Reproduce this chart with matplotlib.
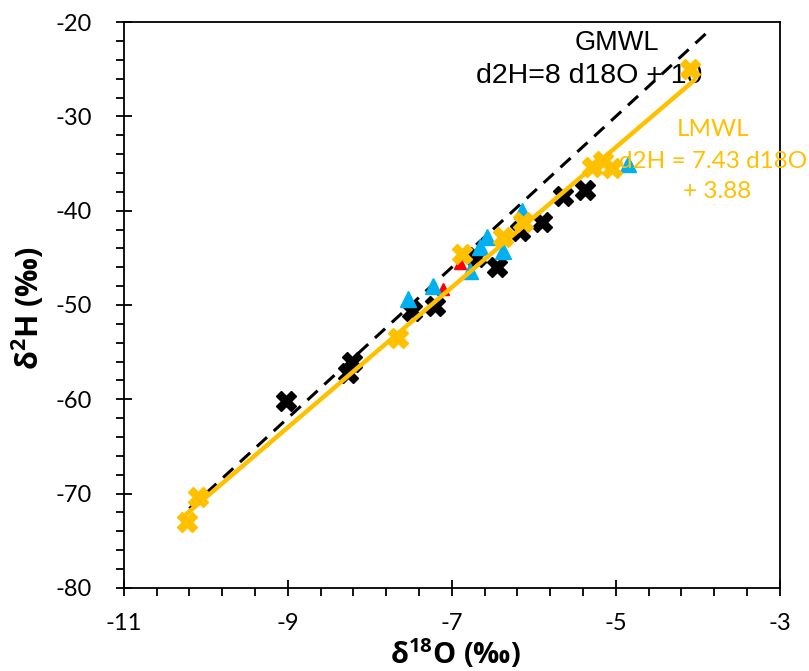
import matplotlib
matplotlib.use("Agg")
import matplotlib.pyplot as plt
import numpy as np

plt.rcParams['font.family'] = ['Lato', 'DejaVu Sans']
plt.rcParams['axes.unicode_minus'] = False
plt.rcParams['mathtext.fontset'] = 'custom'
plt.rcParams['mathtext.rm'] = 'Open Sans'
plt.rcParams['mathtext.bf'] = 'Open Sans:bold'

# Data
black_x = [-9.02, -8.22, -8.27, -7.49, -7.21, -6.70, -6.45, -6.17, -5.90, -5.65, -5.38]
black_y = [-60.2, -56.0, -57.2, -50.6, -50.1, -44.9, -46.0, -42.2, -41.2, -38.4, -37.8]

blue_x = [-7.54, -7.23, -6.78, -6.66, -6.57, -6.38, -6.15, -4.85]
blue_y = [-49.4, -48.0, -46.4, -43.8, -42.8, -44.3, -40.0, -35.0]

red_x = [-7.11, -6.90]
red_y = [-48.3, -45.6]

yel_x = [-10.23, -10.09, -7.66, -6.88, -6.38, -6.13, -5.29, -5.16, -5.05, -4.10]
yel_y = [-73.0, -70.4, -53.5, -44.6, -42.8, -41.2, -35.4, -34.7, -35.5, -25.0]

x_ticks = [-11, -9, -7, -5, -3]
y_ticks = [-80, -70, -60, -50, -40, -30, -20]

gmwl_slope, gmwl_int = 8.0, 10.0
gmwl_range = [-10.2, -3.85]
lmwl_slope, lmwl_int = 7.43, 3.88
lmwl_range = [-10.23, -4.05]

fig = plt.figure(figsize=(8.09, 6.71), dpi=100)
ax = fig.add_axes([0.153, 0.124, 0.811, 0.843])

gx = np.array(gmwl_range)
ax.plot(gx, gmwl_slope * gx + gmwl_int, color='black', lw=2.2, dashes=(4.5, 3), zorder=2)

ax.plot(black_x, black_y, ls='none', marker='X', ms=15, color='black', mec='black', zorder=3)
ax.plot(blue_x, blue_y, ls='none', marker='^', ms=12, color='#00B0F0', mec='#00B0F0', zorder=3)
ax.plot(red_x, red_y, ls='none', marker='^', ms=9, color='#FF0000', mec='#FF0000', zorder=2.5)
ax.plot(yel_x, yel_y, ls='none', marker='X', ms=14, color='#FFC000', mec='#FFC000', zorder=4)

lx = np.array(lmwl_range)
ax.plot(lx, lmwl_slope * lx + lmwl_int, color='#FFC000', lw=3.2, zorder=5)

ax.set_xlim(-11, -3)
ax.set_ylim(-80, -20)
ax.set_xticks(x_ticks)
ax.set_yticks(y_ticks)
ax.set_xticks(np.arange(-11, -2.99, 0.4), minor=True)
ax.set_yticks(np.arange(-80, -19.99, 2), minor=True)
ax.tick_params(which='major', direction='inout', length=12, width=1.3, labelsize=17)
ax.tick_params(which='minor', direction='out', length=5.5, width=1.3)
ax.tick_params(axis='x', which='major', pad=12)
ax.tick_params(axis='y', which='major', pad=17)
for s in ax.spines.values():
    s.set_linewidth(1.3)

ax.set_xlabel(r'$\mathbf{\delta^{18}O}$ $\mathbf{(‰)}$', fontsize=21)
ax.set_ylabel(r'$\mathbf{\delta^{2}H}$ $\mathbf{(‰)}$', fontsize=22)
ax.xaxis.label.set_va('center')
ax.yaxis.label.set_va('center')
ax.xaxis.set_label_coords(0.505, -0.115)
ax.yaxis.set_label_coords(-0.146, 0.495)

ax.text(-4.99, -22.2, 'GMWL', fontsize=19.5, ha='center', va='center',
        family=['Liberation Sans', 'DejaVu Sans'])
ax.text(-5.32, -25.7, 'd2H=8 d18O + 10', fontsize=20.5, ha='center', va='center',
        family=['Liberation Sans', 'DejaVu Sans'])
ax.text(-3.82, -31.4, 'LMWL', fontsize=17.5, ha='center', va='center', color='#FFC000')
ax.text(-3.81, -34.8, 'd2H = 7.43 d18O', fontsize=17.5, ha='center', va='center', color='#FFC000')
ax.text(-3.76, -38.0, '+ 3.88', fontsize=17.5, ha='center', va='center', color='#FFC000')

fig.savefig('out.png', dpi=100)
